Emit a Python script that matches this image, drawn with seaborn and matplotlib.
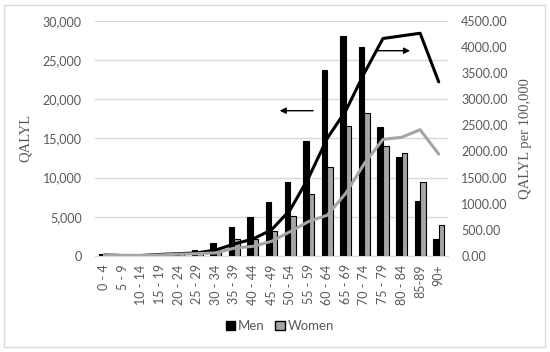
import numpy as np
import matplotlib.pyplot as plt
import pandas as pd
import seaborn as sns
from matplotlib.patches import Patch, Rectangle
from matplotlib.ticker import FuncFormatter

ages = ['0 - 4', '5 - 9', '10 - 14', '15 - 19', '20 - 24', '25 - 29', '30 - 34',
        '35 - 39', '40 - 44', '45 - 49', '50 - 54', '55 - 59', '60 - 64', '65 - 69',
        '70 - 74', '75 - 79', '80 - 84', '85-89', '90+']
men_qalyl = [250, 100, 80, 200, 350, 800, 1700, 3660, 5010, 6850, 9450, 14700,
             23700, 28100, 26700, 16400, 12600, 7010, 2210]
women_qalyl = [180, 80, 70, 150, 280, 550, 770, 2170, 2170, 3230, 5100, 7900,
               11390, 16580, 18280, 14070, 13180, 9480, 3910]
men_rate = [20, 10, 10, 30, 45, 60, 115, 230, 325, 500, 880, 1500, 2250, 2780,
            3500, 4160, 4210, 4260, 3330]
women_rate = [15, 10, 10, 20, 35, 45, 60, 150, 185, 280, 465, 660, 780, 1200,
              1770, 2230, 2270, 2415, 1950]

GRAY = '#a5a5a5'
TXT = '#595959'

sns.set_style('white')
plt.rcParams['font.family'] = ['Lato', 'DejaVu Sans']

fig = plt.figure(figsize=(5.5, 3.52), dpi=100)
ax = fig.add_axes([95 / 550, 1 - 256 / 352, 353 / 550, 235.3 / 352])

df = pd.DataFrame({'age': ages * 2,
                   'QALYL': men_qalyl + women_qalyl,
                   'sex': ['Men'] * len(ages) + ['Women'] * len(ages)})
sns.barplot(data=df, x='age', y='QALYL', hue='sex',
            palette={'Men': 'black', 'Women': GRAY}, width=0.6,
            edgecolor='black', linewidth=0.8, legend=False, ax=ax)

ax.set_xlim(-0.5, len(ages) - 0.5)
ax.set_ylim(0, 30000)
ax.set_yticks(np.arange(0, 30001, 5000))
ax.yaxis.set_major_formatter(FuncFormatter(lambda v, p: f'{int(v):,}'))
ax.yaxis.grid(True, color='#d9d9d9', lw=1)
ax.set_axisbelow(True)
for s in ['left', 'right', 'top']:
    ax.spines[s].set_visible(False)
ax.spines['bottom'].set_color('#d9d9d9')
ax.tick_params(axis='y', length=0, pad=9.5, labelsize=9, labelcolor=TXT)
ax.tick_params(axis='x', length=0, pad=6, labelsize=9, labelcolor=TXT,
               labelrotation=90)
ax.set_xlabel('')
ax.set_ylabel('QALYL', family='Liberation Serif', fontsize=10.5, color=TXT)
ax.yaxis.set_label_coords(-0.178, 0.5)

ax.annotate('', xy=(9.29, 18525), xytext=(11.39, 18525),
            arrowprops=dict(arrowstyle='-|>', color='black', lw=1,
                            mutation_scale=9))
ax.annotate('', xy=(16.61, 26175), xytext=(14.47, 26175),
            arrowprops=dict(arrowstyle='-|>', color='black', lw=1,
                            mutation_scale=9))

ax2 = ax.twinx()
pos = np.arange(len(ages))
sns.lineplot(x=pos, y=men_rate, color='black', lw=2.2, ax=ax2)
sns.lineplot(x=pos, y=women_rate, color=GRAY, lw=2.2, ax=ax2)
ax2.set_ylim(0, 4500)
ax2.set_yticks(np.arange(0, 4501, 500))
ax2.yaxis.set_major_formatter(FuncFormatter(lambda v, p: f'{v:.2f}'))
for s in ax2.spines.values():
    s.set_visible(False)
ax2.tick_params(axis='y', length=0, pad=9.5, labelsize=9, labelcolor=TXT)
ax2.set_ylabel('QALYL per 100,000', family='Liberation Serif', fontsize=10.5,
               color=TXT, rotation=90)
ax2.yaxis.set_label_coords(1.201, 0.5)

handles = [Patch(facecolor='black', edgecolor='black'),
           Patch(facecolor=GRAY, edgecolor='black')]
fig.legend(handles, ['Men', 'Women'], loc='center', ncol=2,
           bbox_to_anchor=(0.509, 0.074), frameon=False, fontsize=9.5,
           handlelength=0.7, handleheight=0.7, handletextpad=0.25,
           columnspacing=0.8, labelcolor=TXT)

fig.add_artist(Rectangle((4 / 550, 5 / 352), 541 / 550, 342 / 352,
                         transform=fig.transFigure, fill=False,
                         edgecolor='#d9d9d9', lw=1))

fig.savefig('out.png', dpi=100)
